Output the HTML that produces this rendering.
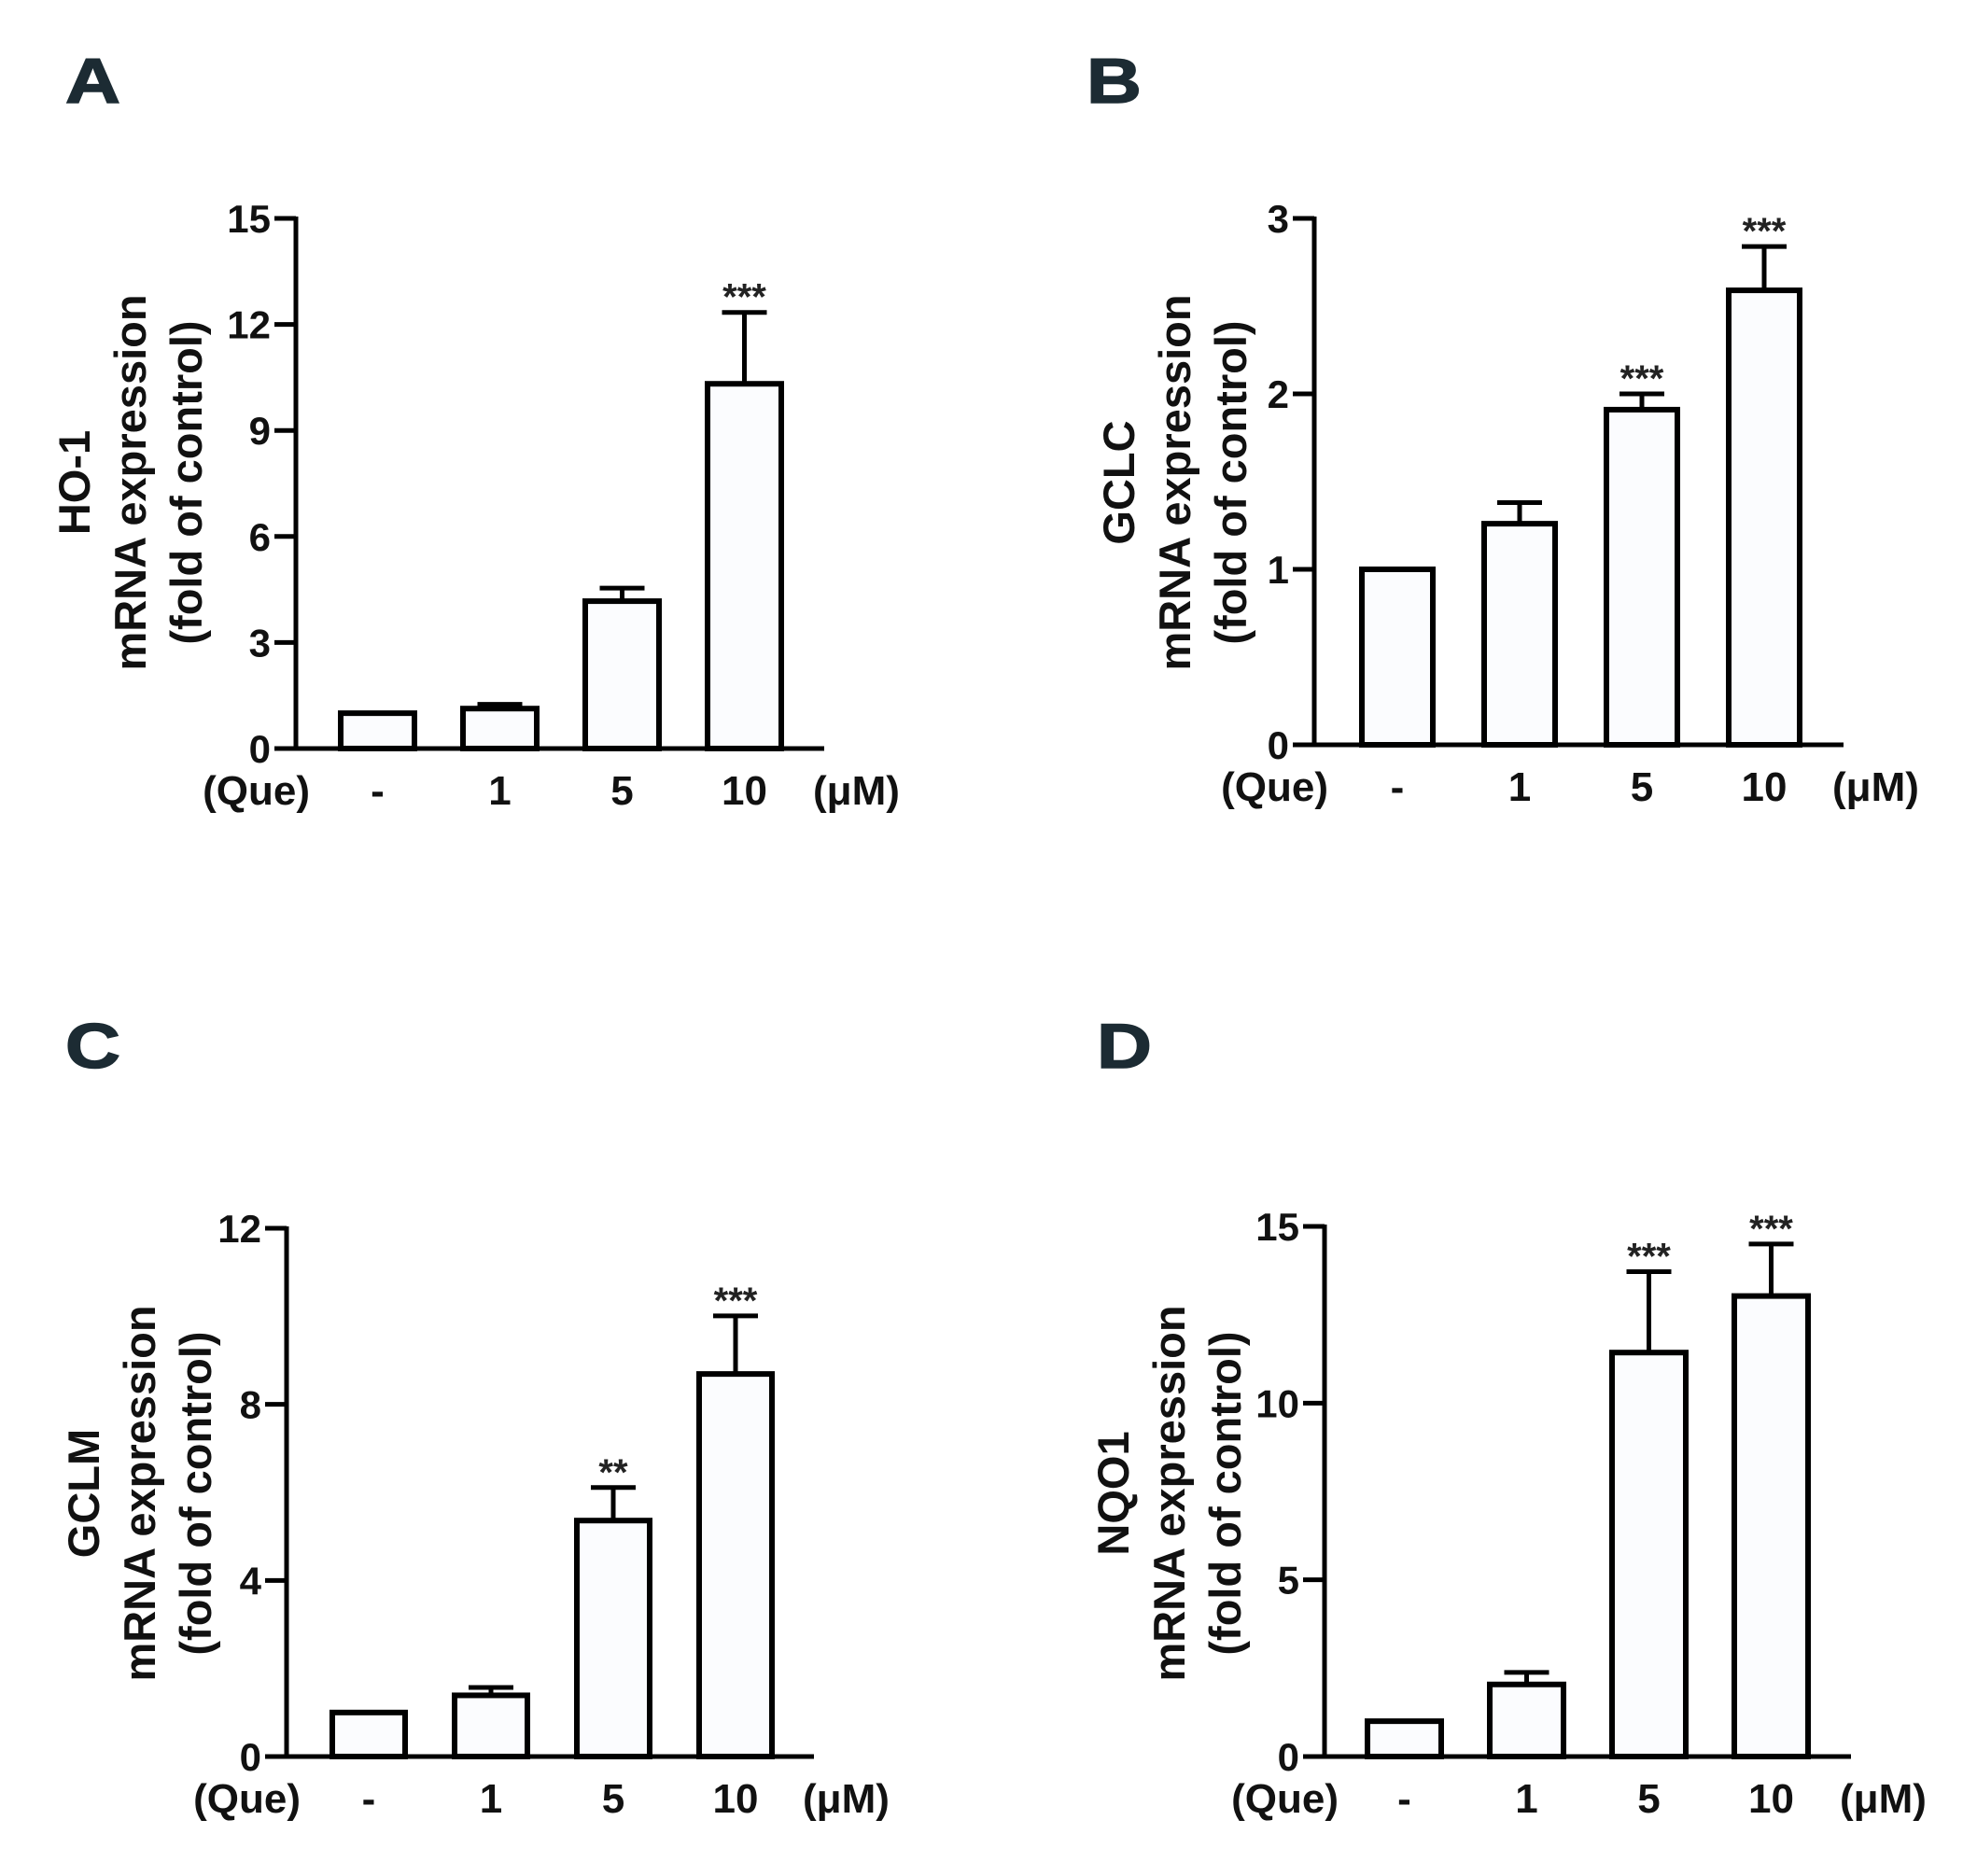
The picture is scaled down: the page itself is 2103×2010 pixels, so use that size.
<!DOCTYPE html>
<html><head><meta charset="utf-8"><style>
html,body{margin:0;padding:0;background:#fff;}
svg{display:block;font-family:"Liberation Sans",Arial,sans-serif;}
</style></head><body>
<svg id="fig" width="2103" height="2010" viewBox="0 0 2103 2010"></svg>
<script>
// Panel data
const categories = ["-", "1", "5", "10"];
const hoValues = [1.0, 1.13, 4.17, 10.32];
const hoErrors = [1.0, 1.25, 4.54, 12.34];
const hoStars = ["", "", "", "***"];
const hoTicks = [0, 3, 6, 9, 12, 15];
const gclcValues = [1.0, 1.26, 1.91, 2.59];
const gclcErrors = [1.0, 1.38, 2.0, 2.84];
const gclcStars = ["", "", "***", "***"];
const gclcTicks = [0, 1, 2, 3];
const gclmValues = [1.0, 1.39, 5.36, 8.69];
const gclmErrors = [1.0, 1.57, 6.11, 10.01];
const gclmStars = ["", "", "**", "***"];
const gclmTicks = [0, 4, 8, 12];
const nqoValues = [1.0, 2.04, 11.43, 13.03];
const nqoErrors = [1.0, 2.38, 13.72, 14.5];
const nqoStars = ["", "", "***", "***"];
const nqoTicks = [0, 5, 10, 15];

const NS = "http://www.w3.org/2000/svg";
const svg = document.getElementById("fig");
function mk(tag, attrs, parent, text) {
  const e = document.createElementNS(NS, tag);
  for (const k in attrs) e.setAttribute(k, attrs[k]);
  if (text !== undefined) e.textContent = text;
  (parent || svg).appendChild(e);
  return e;
}

function panel(cfg) {
  const g = mk("g", {});
  
  
  const ymax = cfg.ticks[cfg.ticks.length - 1];
  const yScale = v => cfg.y0 - (v / ymax) * (cfg.y0 - cfg.yTop);
  const xScale = i => cfg.barStart + i * cfg.barStep;
  const bw = cfg.barW;

  const lbl = mk("text", {x: 0, y: 0, "font-size": 68, "font-weight": "bold", fill: "#1c2b33",
    stroke: "#1c2b33", "stroke-width": 1.5,
    transform: `translate(${cfg.letterX},${cfg.letterY}) scale(1.2,1)`}, g, cfg.letter);
  
  

  // y title
  const tt = mk("text", {"font-size": 47, "font-weight": "bold", "text-anchor": "middle", fill: "#111",
    transform: `translate(${cfg.titleX},${cfg.titleY}) rotate(-90)`}, g);
  
  
  const lines = [cfg.gene, "mRNA expression", "(fold of control)"];
  lines.forEach((l, i) => mk("tspan", {x: 0, y: (i - 1) * 60 + 16}, tt, l));

  // y axis
  const ya = mk("line", {x1: cfg.axisX, y1: yScale(ymax) - 2, x2: cfg.axisX, y2: cfg.y0, stroke: "#000", "stroke-width": 5}, g);
  
  
  cfg.ticks.forEach(t => {
    const y = yScale(t);
    const tk = mk("line", {x1: cfg.axisX - 23, y1: y, x2: cfg.axisX, y2: y, stroke: "#000", "stroke-width": 5}, g);
    
    
    const tl = mk("text", {x: cfg.axisX - 27, y: y + 15, "font-size": 42, "font-weight": "bold", "text-anchor": "end", fill: "#111"}, g, String(t));
    
    
  });
  // x axis
  const xa = mk("line", {x1: cfg.axisX - 23, y1: cfg.y0, x2: cfg.xEnd, y2: cfg.y0, stroke: "#000", "stroke-width": 5}, g);
  
  

  cfg.values.forEach((v, i) => {
    const x = xScale(i), cx = x + bw / 2;
    const ey = yScale(cfg.errors[i]), ty = yScale(v);
    if (cfg.errors[i] > v) {
      const el = mk("line", {x1: cx, y1: ey, x2: cx, y2: ty, stroke: "#000", "stroke-width": 5}, g);
      
      
      const cap = mk("line", {x1: cx - 24, y1: ey, x2: cx + 24, y2: ey, stroke: "#000", "stroke-width": 5}, g);
      
      
    }
    const r = mk("rect", {x: x + 3, y: ty, width: bw - 6, height: cfg.y0 - ty, fill: "#fbfcfe", stroke: "#000", "stroke-width": 6}, g);
    
    
    if (cfg.stars[i]) {
      const s = mk("text", {x: cx, y: Math.min(ey, ty) - 3, "font-size": 40, "font-weight": "bold", "text-anchor": "middle", fill: "#222"}, g, cfg.stars[i]);
      
      
    }
    const c = mk("text", {x: cx, y: cfg.y0 + 60, "font-size": 44, "font-weight": "bold", "text-anchor": "middle", fill: "#111"}, g, categories[i]);
    
    
  });
  const q = mk("text", {x: cfg.axisX + 15, y: cfg.y0 + 60, "font-size": 44, "font-weight": "bold", "text-anchor": "end", fill: "#111"}, g, "(Que)");
  
  
  const u = mk("text", {x: cfg.xEnd - 12, y: cfg.y0 + 60, "font-size": 44, "font-weight": "bold", fill: "#111"}, g, "(μM)");
  
  
}

panel({letter: "A", letterX: 70, letterY: 110, gene: "HO-1", titleX: 140, titleY: 517,
  axisX: 317, yTop: 234, y0: 802, xEnd: 883, barStart: 362, barStep: 131, barW: 85,
  values: hoValues, errors: hoErrors, stars: hoStars, ticks: hoTicks});
panel({letter: "B", letterX: 1164, letterY: 110, gene: "GCLC", titleX: 1259, titleY: 517,
  axisX: 1408, yTop: 234, y0: 798, xEnd: 1975, barStart: 1456, barStep: 131, barW: 82,
  values: gclcValues, errors: gclcErrors, stars: gclcStars, ticks: gclcTicks});
panel({letter: "C", letterX: 70, letterY: 1144, gene: "GCLM", titleX: 150, titleY: 1600,
  axisX: 307, yTop: 1316, y0: 1882, xEnd: 872, barStart: 353, barStep: 131, barW: 84,
  values: gclmValues, errors: gclmErrors, stars: gclmStars, ticks: gclmTicks});
panel({letter: "D", letterX: 1175, letterY: 1144, gene: "NQO1", titleX: 1253, titleY: 1600,
  axisX: 1419, yTop: 1314, y0: 1882, xEnd: 1983, barStart: 1462, barStep: 131, barW: 85,
  values: nqoValues, errors: nqoErrors, stars: nqoStars, ticks: nqoTicks});
</script>
</body></html>
